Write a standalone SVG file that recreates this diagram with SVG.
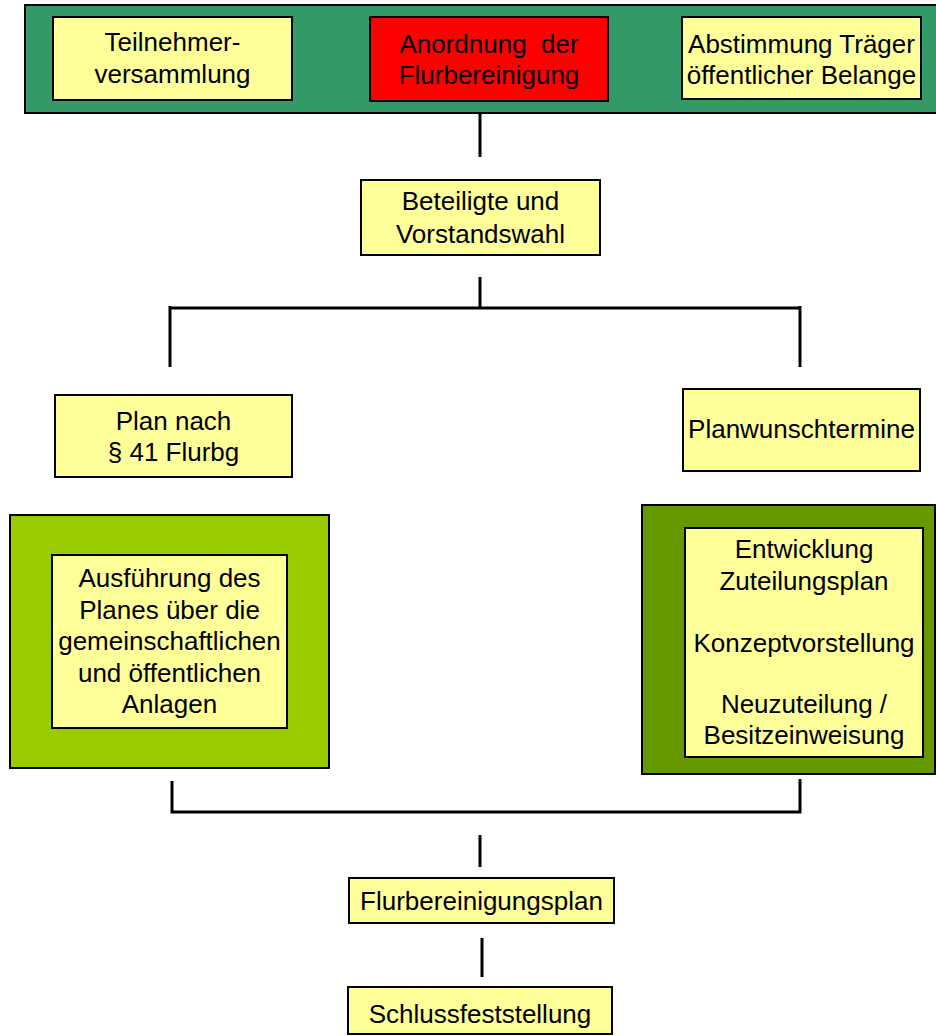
<svg xmlns="http://www.w3.org/2000/svg" width="936" height="1036" viewBox="0 0 936 1036">
<style>
  .box { fill: #FFFF99; stroke: #000; stroke-width: 2; }
  .red { fill: #FF0000; stroke: #000; stroke-width: 2; }
  .bar { fill: #339966; stroke: #000; stroke-width: 2; }
  .lg { fill: #99CC00; stroke: #000; stroke-width: 2; }
  .dg { fill: #669900; stroke: #000; stroke-width: 2; }
  text { font-family: "Liberation Sans", Arial, sans-serif; font-size: 26px; fill: #000; text-anchor: middle; }
  .conn path { fill: none; stroke: #000; stroke-width: 3; }
  .shadow path { fill: none; stroke: #999; stroke-width: 3; }
</style>
<rect width="936" height="1036" fill="#fff"/>

<g id="top-bar">
  <rect class="bar" x="25" y="5" width="915" height="108"/>
</g>
<g id="teilnehmer">
  <rect class="box" x="53" y="17" width="239" height="83"/>
  <text x="172.5" y="51">Teilnehmer-</text>
  <text x="172.5" y="83">versammlung</text>
</g>
<g id="anordnung">
  <rect class="red" x="370" y="17" width="238" height="84"/>
  <text x="489" y="53" style="white-space:pre">Anordnung  der</text>
  <text x="489" y="84">Flurbereinigung</text>
</g>
<g id="abstimmung">
  <rect class="box" x="682" y="17" width="239" height="82"/>
  <text x="801.5" y="53">Abstimmung Träger</text>
  <text x="801.5" y="84">öffentlicher Belange</text>
</g>

<g id="beteiligte">
  <rect class="box" x="361" y="180" width="239" height="75"/>
  <text x="480.5" y="210">Beteiligte und</text>
  <text x="480.5" y="243">Vorstandswahl</text>
</g>

<g id="plan41">
  <rect class="box" x="55" y="395" width="237" height="82"/>
  <text x="173.5" y="430">Plan nach</text>
  <text x="173.5" y="461">§ 41 Flurbg</text>
</g>
<g id="planwunsch">
  <rect class="box" x="683" y="389" width="237" height="82"/>
  <text x="801.5" y="438">Planwunschtermine</text>
</g>

<g id="ausfuehrung">
  <rect class="lg" x="10" y="515" width="319" height="253"/>
  <rect class="box" x="52" y="555" width="235" height="173"/>
  <text x="169.5" y="587">Ausführung des</text>
  <text x="169.5" y="619">Planes über die</text>
  <text x="169.5" y="650">gemeinschaftlichen</text>
  <text x="169.5" y="682">und öffentlichen</text>
  <text x="169.5" y="713">Anlagen</text>
</g>

<g id="entwicklung">
  <rect class="dg" x="642" y="505" width="293" height="269"/>
  <rect class="box" x="685" y="528" width="238" height="229"/>
  <text x="804" y="558">Entwicklung</text>
  <text x="804" y="590">Zuteilungsplan</text>
  <text x="804" y="652">Konzeptvorstellung</text>
  <text x="804" y="713">Neuzuteilung /</text>
  <text x="804" y="744">Besitzeinweisung</text>
</g>

<g id="flurbereinigungsplan">
  <rect class="box" x="349" y="878" width="265" height="45"/>
  <text x="481.5" y="910">Flurbereinigungsplan</text>
</g>
<g id="schlussfeststellung">
  <rect class="box" x="348" y="987" width="264" height="47"/>
  <text x="480" y="1023">Schlussfeststellung</text>
</g>

<g id="connectors" class="conn">
  <path d="M480 113 V157"/>
  <path d="M480 277 V308"/>
  <path d="M170 308 H800"/>
  <path d="M170 306 V367"/>
  <path d="M800 306 V367"/>
  <path d="M172 781 V812 H800 V779"/>
  <path d="M480 835 V867"/>
  <path d="M482 938 V977"/>
</g>
</svg>
